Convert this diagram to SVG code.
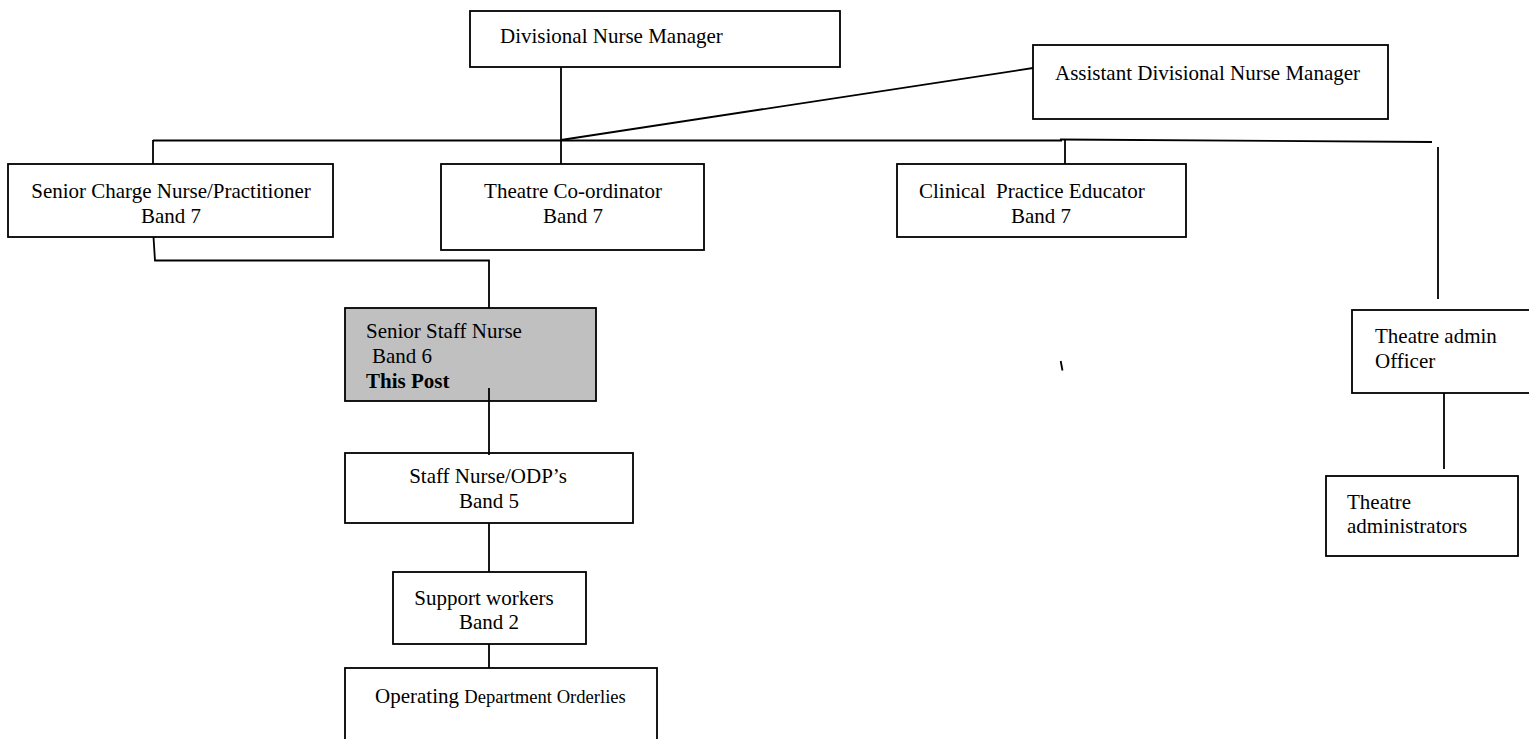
<svg xmlns="http://www.w3.org/2000/svg" width="1529" height="739" viewBox="0 0 1529 739">
<style>
.box{fill:#ffffff;stroke:#000;stroke-width:1.8}
.hl{fill:#c0c0c0;stroke:#000;stroke-width:1.8}
.ln{fill:none;stroke:#000;stroke-width:1.8}
text{font-family:"Liberation Serif","Times New Roman",serif;font-size:21px;fill:#000}
.c{text-anchor:middle}
.sm{font-size:18.6px}
</style>
<rect width="1529" height="739" fill="#fff"/>
<g id="n-dnm"><rect class="box" x="470" y="11" width="370" height="56"/><text x="500" y="43">Divisional Nurse Manager</text></g>
<g id="n-adnm"><rect class="box" x="1033" y="45" width="355" height="74"/><text x="1055" y="80">Assistant Divisional Nurse Manager</text></g>
<g id="n-scn"><rect class="box" x="8" y="164" width="325" height="73"/><text class="c" x="171" y="198">Senior Charge Nurse/Practitioner</text><text class="c" x="171" y="223">Band 7</text></g>
<g id="n-tc"><rect class="box" x="441" y="164" width="263" height="86"/><text class="c" x="573" y="198">Theatre Co-ordinator</text><text class="c" x="573" y="223">Band 7</text></g>
<g id="n-cpe"><rect class="box" x="897" y="164" width="289" height="73"/><text x="919" y="198" xml:space="preserve">Clinical  Practice Educator</text><text class="c" x="1041" y="223">Band 7</text></g>
<g id="n-ssn"><rect class="hl" x="345" y="308" width="251" height="93"/><text x="366" y="338">Senior Staff Nurse</text><text x="372" y="363">Band 6</text><text x="366" y="388" font-weight="bold">This Post</text></g>
<g id="n-sn"><rect class="box" x="345" y="453" width="288" height="70"/><text class="c" x="488" y="483">Staff Nurse/ODP’s</text><text class="c" x="489" y="508">Band 5</text></g>
<g id="n-sw"><rect class="box" x="393" y="572" width="193" height="72"/><text class="c" x="484" y="605">Support workers</text><text class="c" x="489" y="629">Band 2</text></g>
<g id="n-odo"><rect class="box" x="345" y="668" width="312" height="80"/><text x="375" y="703">Operating <tspan class="sm">Department Orderlies</tspan></text></g>
<g id="n-tao"><rect class="box" x="1352" y="310" width="200" height="83"/><text x="1375" y="343">Theatre admin</text><text x="1375" y="368">Officer</text></g>
<g id="n-tad"><rect class="box" x="1326" y="476" width="192" height="80"/><text x="1347" y="509">Theatre</text><text x="1347" y="533">administrators</text></g>
<g id="connectors">
<line class="ln" x1="561" y1="67" x2="561" y2="164"/>
<line class="ln" x1="561" y1="140" x2="1033" y2="68"/>
<line class="ln" x1="153" y1="140.5" x2="1062" y2="140.5"/>
<line class="ln" x1="1060" y1="139.5" x2="1432" y2="142"/>
<line class="ln" x1="153" y1="140" x2="153" y2="164"/>
<line class="ln" x1="1065" y1="140" x2="1065" y2="164"/>
<line class="ln" x1="1438" y1="147" x2="1438" y2="299"/>
<polyline class="ln" points="153.5,237 155,260.5 489,260.5 489,308"/>
<line class="ln" x1="489" y1="388" x2="489" y2="455"/>
<line class="ln" x1="489" y1="523" x2="489" y2="572"/>
<line class="ln" x1="489" y1="644" x2="489" y2="668"/>
<line class="ln" x1="1444" y1="393" x2="1444" y2="469"/>
<line class="ln" x1="1060.7" y1="361" x2="1062.5" y2="370.5" stroke-width="1.6"/>
</g>
</svg>
